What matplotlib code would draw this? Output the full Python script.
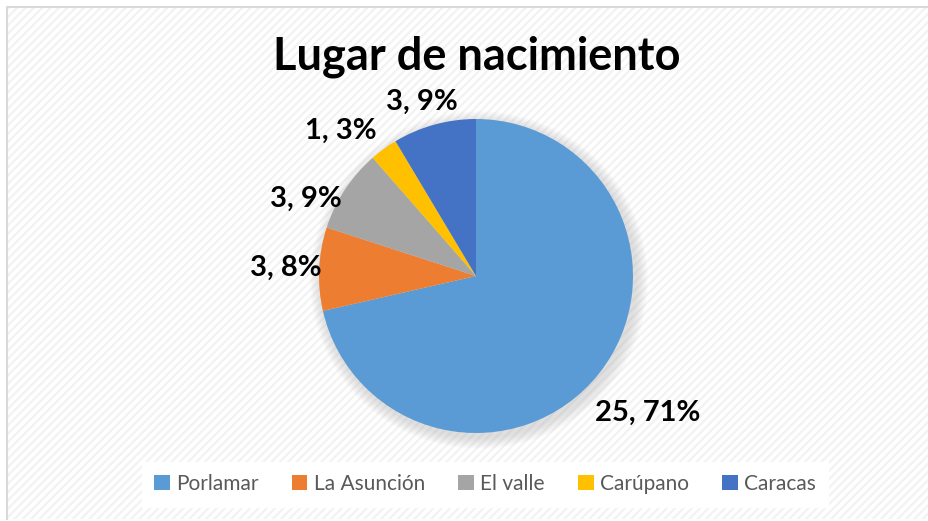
import numpy as np
import matplotlib
matplotlib.use('Agg')
import matplotlib.pyplot as plt
from matplotlib.patches import Rectangle, Circle

plt.rcParams['font.family'] = ['Lato', 'DejaVu Sans']
plt.rcParams['hatch.linewidth'] = 1.5

# data
places = ['Porlamar', 'La Asunción', 'El valle', 'Carúpano', 'Caracas']
counts = [25, 3, 3, 1, 3]
pct_labels = ['71%', '8%', '9%', '3%', '9%']
colors = ['#5B9BD5', '#ED7D31', '#A5A5A5', '#FFC000', '#4472C4']

# label placement (radius factor, angle shift in deg) - mimic excel best fit
label_dist = [1.40, 1.21, 1.19, 1.26, 1.16]
label_shift = [0, 0, 9, 7, 2]

W, H = 929, 521
fig = plt.figure(figsize=(W / 100, H / 100), dpi=100)
ax = fig.add_axes([0, 0, 1, 1])
ax.set_xlim(0, W)
ax.set_ylim(0, H)
ax.set_aspect('equal')
ax.axis('off')

# striped background + frame
ax.add_patch(Rectangle((0, 0), W, H, facecolor='white', edgecolor='none', zorder=0))
ax.add_patch(Rectangle((7, 2), W, H - 9, facecolor='white', edgecolor='#f2f2f2',
                       hatch='////', linewidth=0, zorder=0.5))
ax.plot([7, 7, W], [2, H - 7, H - 7], color='#d9d9d9', lw=1.5, zorder=1)

cx, cy, r = 476, H - 276, 157

# soft shadow
for i in range(12):
    ax.add_patch(Circle((cx + 3, cy - 4), r + 12 - i, facecolor='#b0b0b0',
                        edgecolor='none', alpha=0.035, zorder=1))

wedges, _ = ax.pie(counts, colors=colors, startangle=90, counterclock=False,
                   center=(cx, cy), radius=r, frame=True,
                   wedgeprops=dict(linewidth=0, zorder=2))
ax.set_xlim(0, W)
ax.set_ylim(0, H)
ax.axis('off')

for w, n, p, d, s in zip(wedges, counts, pct_labels, label_dist, label_shift):
    ang = np.deg2rad((w.theta1 + w.theta2) / 2 + s)
    ax.text(cx + d * r * np.cos(ang), cy + d * r * np.sin(ang), f'{n}, {p}',
            ha='center', va='center', fontsize=21, fontweight='bold',
            color='black', zorder=5)

ax.text(W / 2 + 12, H - 57, 'Lugar de nacimiento', ha='center', va='center',
        fontsize=32.5, fontweight='bold', color='black', zorder=5)

leg = ax.legend(wedges, places, loc='center', bbox_to_anchor=(485 / W, 1 - 484 / H),
                ncol=5, frameon=True, fontsize=15, handlelength=0.75, handleheight=0.75,
                handletextpad=0.3, columnspacing=1.6, borderpad=0.6)
leg.get_frame().set_facecolor('white')
leg.get_frame().set_edgecolor('white')
leg.get_frame().set_alpha(1)
leg.get_frame().set_boxstyle('square', pad=0)
for t in leg.get_texts():
    t.set_color('#595959')

fig.savefig('out.png', dpi=100)
